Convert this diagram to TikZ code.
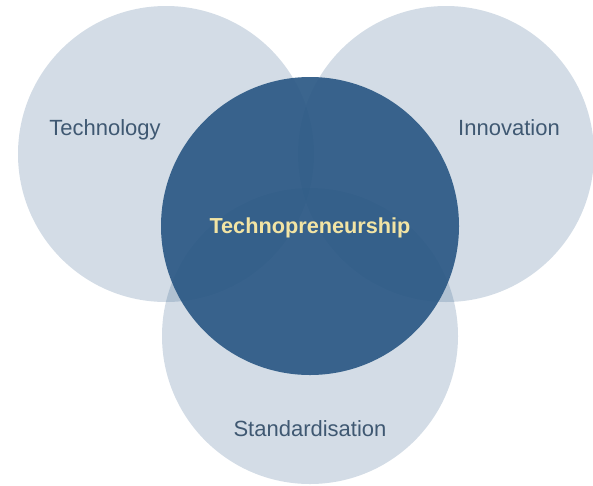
\documentclass[tikz,border=0pt]{standalone}
\usepackage{fontspec}
\setmainfont{Liberation Sans}
\definecolor{basec}{HTML}{2F5B88}
\definecolor{darkc}{HTML}{2C5985}
\definecolor{labelc}{HTML}{3F5872}
\definecolor{titlec}{HTML}{F2E4A4}
\tikzset{
  lightcirc/.style={circle, fill=basec, fill opacity=0.21, draw=none, minimum size=296pt, inner sep=0pt},
  darkcirc/.style={circle, fill=darkc, fill opacity=0.93, draw=none, minimum size=298pt, inner sep=0pt},
  lbl/.style={anchor=base, text=labelc, font=\fontsize{22}{26}\selectfont, inner sep=0pt},
  ttl/.style={anchor=base, text=titlec, font=\fontsize{21.7}{26}\bfseries\selectfont, inner sep=0pt}
}
\begin{document}
\begin{tikzpicture}[x=1pt,y=-1pt]
\useasboundingbox (0,0) rectangle (593,485);
\node[lightcirc] (ctech) at (166,154) {};
\node[lightcirc] (cinno) at (446,154) {};
\node[lightcirc] (cstd) at (310,336) {};
\node[darkcirc] (ccore) at (310,226) {};
\node[lbl] (ttech) at (105,135) {Technology};
\node[lbl] (tinno) at (509,135) {Innovation};
\node[lbl] (tstd) at (310,436) {Standardisation};
\node[ttl] (tcore) at (310,233) {Technopreneurship};
\end{tikzpicture}
\end{document}
